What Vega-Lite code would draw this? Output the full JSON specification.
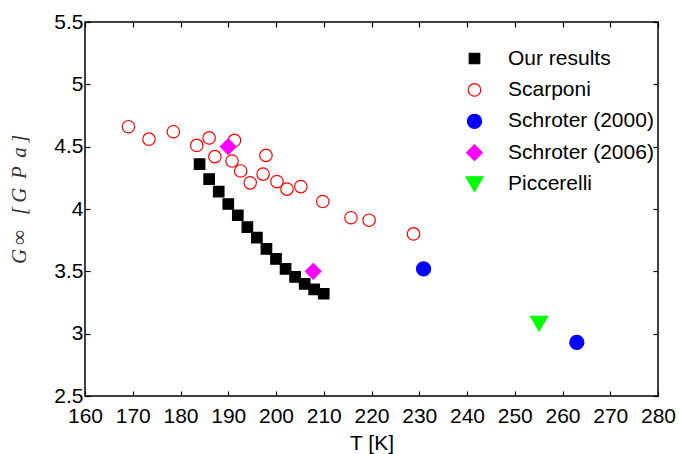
{
  "$schema": "https://vega.github.io/schema/vega-lite/v6.json",
  "width": 573,
  "height": 374,
  "autosize": "none",
  "padding": {"left": 85, "top": 22, "right": 21, "bottom": 58},
  "background": "white",
  "config": {
    "view": {"stroke": "black", "strokeWidth": 1.5},
    "font": "Liberation Sans",
    "axis": {"domain": false, "grid": false, "tickColor": "black", "tickWidth": 1.2, "labelColor": "black", "labelFontSize": 21, "labelFont": "Liberation Sans", "labelOverlap": false, "labelBound": false, "labelFlush": false}
  },
  "data": {
    "values": [
      {"T": 184, "G": 4.36, "series": "Our results"},
      {"T": 186, "G": 4.24, "series": "Our results"},
      {"T": 188, "G": 4.14, "series": "Our results"},
      {"T": 190, "G": 4.04, "series": "Our results"},
      {"T": 192, "G": 3.95, "series": "Our results"},
      {"T": 194, "G": 3.855, "series": "Our results"},
      {"T": 196, "G": 3.77, "series": "Our results"},
      {"T": 198, "G": 3.68, "series": "Our results"},
      {"T": 200, "G": 3.60, "series": "Our results"},
      {"T": 202, "G": 3.52, "series": "Our results"},
      {"T": 204, "G": 3.455, "series": "Our results"},
      {"T": 206, "G": 3.40, "series": "Our results"},
      {"T": 208, "G": 3.355, "series": "Our results"},
      {"T": 210, "G": 3.32, "series": "Our results"},
      {"T": 169.1, "G": 4.66, "series": "Scarponi"},
      {"T": 173.4, "G": 4.56, "series": "Scarponi"},
      {"T": 178.5, "G": 4.62, "series": "Scarponi"},
      {"T": 183.4, "G": 4.51, "series": "Scarponi"},
      {"T": 186.0, "G": 4.57, "series": "Scarponi"},
      {"T": 187.2, "G": 4.42, "series": "Scarponi"},
      {"T": 191.3, "G": 4.55, "series": "Scarponi"},
      {"T": 190.8, "G": 4.385, "series": "Scarponi"},
      {"T": 192.6, "G": 4.305, "series": "Scarponi"},
      {"T": 194.6, "G": 4.21, "series": "Scarponi"},
      {"T": 197.3, "G": 4.28, "series": "Scarponi"},
      {"T": 197.9, "G": 4.43, "series": "Scarponi"},
      {"T": 200.2, "G": 4.22, "series": "Scarponi"},
      {"T": 202.3, "G": 4.16, "series": "Scarponi"},
      {"T": 205.2, "G": 4.18, "series": "Scarponi"},
      {"T": 209.8, "G": 4.06, "series": "Scarponi"},
      {"T": 215.7, "G": 3.93, "series": "Scarponi"},
      {"T": 219.5, "G": 3.91, "series": "Scarponi"},
      {"T": 228.8, "G": 3.80, "series": "Scarponi"},
      {"T": 230.9, "G": 3.52, "series": "Schroter (2000)"},
      {"T": 263.0, "G": 2.93, "series": "Schroter (2000)"},
      {"T": 190.0, "G": 4.50, "series": "Schroter (2006)"},
      {"T": 207.8, "G": 3.50, "series": "Schroter (2006)"},
      {"T": 255.1, "G": 3.08, "series": "Piccerelli"}
    ]
  },
  "layer": [
    {
      "mark": {"type": "point", "strokeWidth": 1.2, "opacity": 1},
      "encoding": {
        "x": {"field": "T", "type": "quantitative", "scale": {"domain": [160, 280], "nice": false, "zero": false},
              "axis": {"orient": "bottom", "values": [160,170,180,190,200,210,220,230,240,250,260,270,280], "tickSize": -5, "labelPadding": 14, "title": "T [K]", "titleFontSize": 21, "titleFontWeight": "normal", "titleFont": "Liberation Sans", "titlePadding": 6}},
        "y": {"field": "G", "type": "quantitative", "scale": {"domain": [2.5, 5.5], "nice": false, "zero": false},
              "axis": {"orient": "left", "values": [2.5,3,3.5,4,4.5,5,5.5], "format": ".1~f", "tickSize": -5, "labelPadding": 7, "title": "G\u2009∞\u2002\u2009[\u2009G\u2009\u2009P\u2009\u2009a\u2009]", "titleFont": "Liberation Serif", "titleFontStyle": "italic", "titleFontWeight": "normal", "titleFontSize": 21, "titleColor": "#333333", "titleX": -56, "titleY": 177}},
        "shape": {"field": "series", "type": "nominal",
                  "scale": {"domain": ["Our results", "Scarponi", "Schroter (2000)", "Schroter (2006)", "Piccerelli"], "range": ["square", "circle", "circle", "diamond", "triangle-down"]},
                  "legend": {"orient": "none", "legendX": 379, "legendY": 26, "title": null, "labelFontSize": 21, "labelFont": "Liberation Sans", "labelColor": "black", "rowPadding": 9.4, "labelOffset": 23, "padding": 0, "symbolStrokeWidth": 1.2}},
        "fill": {"field": "series", "type": "nominal",
                 "scale": {"domain": ["Our results", "Scarponi", "Schroter (2000)", "Schroter (2006)", "Piccerelli"], "range": ["#000000", "transparent", "#0000ff", "#ff00ff", "#00ff00"]}},
        "stroke": {"field": "series", "type": "nominal",
                   "scale": {"domain": ["Our results", "Scarponi", "Schroter (2000)", "Schroter (2006)", "Piccerelli"], "range": ["#000000", "#ff0000", "#0000ff", "#ff00ff", "#00ff00"]}},
        "size": {"field": "series", "type": "nominal",
                 "scale": {"domain": ["Our results", "Scarponi", "Schroter (2000)", "Schroter (2006)", "Piccerelli"], "range": [110, 290, 250, 300, 320]}}
      }
    },
    {
      "mark": {"type": "point", "opacity": 0},
      "encoding": {
        "x": {"field": "T", "type": "quantitative", "axis": {"orient": "top", "values": [160,170,180,190,200,210,220,230,240,250,260,270,280], "tickSize": -5, "labels": false, "title": null}},
        "y": {"field": "G", "type": "quantitative", "axis": {"orient": "right", "values": [2.5,3,3.5,4,4.5,5,5.5], "tickSize": -5, "labels": false, "title": null}}
      }
    }
  ],
  "resolve": {"axis": {"x": "independent", "y": "independent"}}
}
